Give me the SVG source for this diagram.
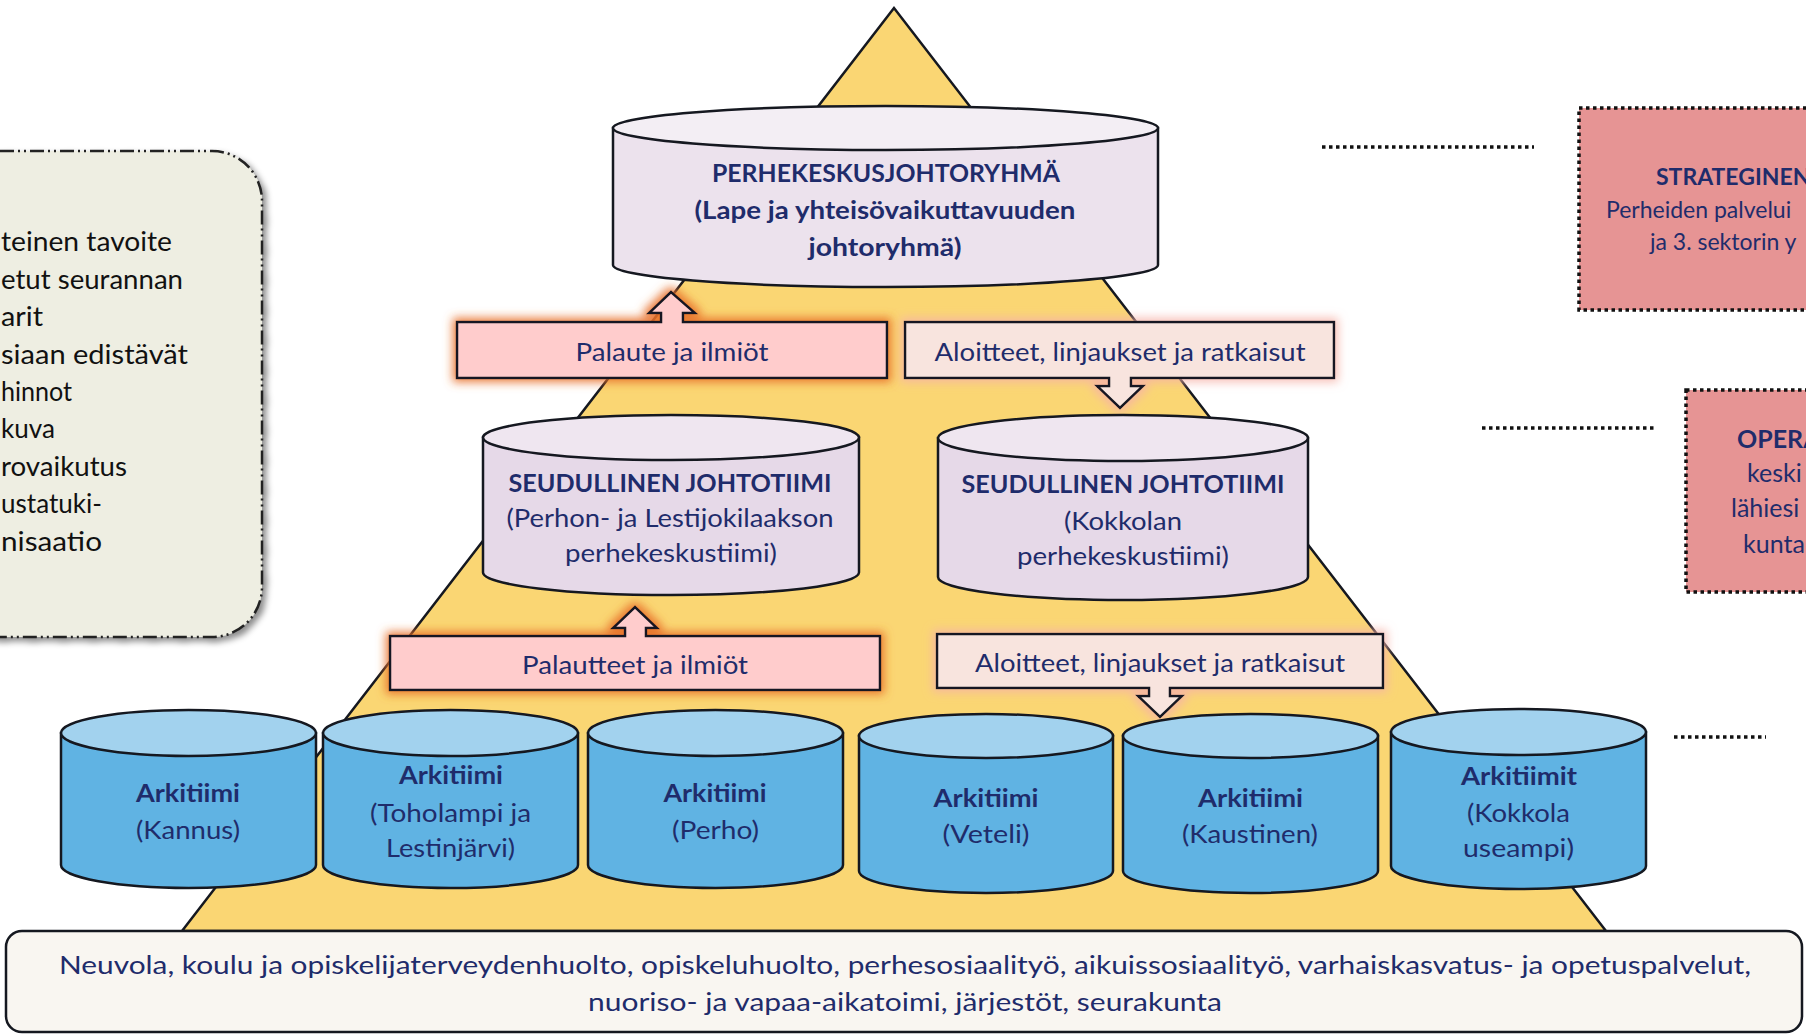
<svg xmlns="http://www.w3.org/2000/svg" width="1806" height="1034" viewBox="0 0 1806 1034">
<defs>
<style>
.t{font-family:Lato,"Open Sans","Liberation Sans",sans-serif;fill:#1F2C6B;font-size:25px}
.b{font-weight:bold}
.c{text-anchor:middle}
.blk{font-family:Lato,"Open Sans","Liberation Sans",sans-serif;fill:#111;font-size:26px}
.cyl{stroke:#151820;stroke-width:2.5}
.lav-s{fill:#E6D9E8}.lav-t{fill:#EFE6F0}
.top-s{fill:#ECE2ED}.top-t{fill:#F3EEF4}
.blu-s{fill:#60B3E3}.blu-t{fill:#A2D2EE}
.dotl{stroke:#111;stroke-width:3.5;stroke-dasharray:3.5 3.5;fill:none}
.callP{fill:#FFCCCC;stroke:#151820;stroke-width:2.5}
.callA{fill:#F8E4DE;stroke:#151820;stroke-width:2.5}
</style>
<filter id="glowO" x="-10%" y="-40%" width="120%" height="180%">
<feMorphology in="SourceAlpha" operator="dilate" radius="3" result="d"/>
<feGaussianBlur in="d" stdDeviation="5" result="bl"/>
<feFlood flood-color="#E8702A" flood-opacity="0.9"/>
<feComposite in2="bl" operator="in" result="g"/>
<feMerge><feMergeNode in="g"/><feMergeNode in="SourceGraphic"/></feMerge>
</filter>
<filter id="glowP" x="-10%" y="-40%" width="120%" height="180%">
<feMorphology in="SourceAlpha" operator="dilate" radius="3" result="d"/>
<feGaussianBlur in="d" stdDeviation="5" result="bl"/>
<feFlood flood-color="#F6B2A8" flood-opacity="0.8"/>
<feComposite in2="bl" operator="in" result="g"/>
<feMerge><feMergeNode in="g"/><feMergeNode in="SourceGraphic"/></feMerge>
</filter>
<filter id="shad" x="-10%" y="-10%" width="130%" height="130%">
<feGaussianBlur in="SourceAlpha" stdDeviation="3"/>
<feOffset dx="4" dy="4" result="o"/>
<feFlood flood-color="#000" flood-opacity="0.45"/>
<feComposite in2="o" operator="in" result="s"/>
<feMerge><feMergeNode in="s"/><feMergeNode in="SourceGraphic"/></feMerge>
</filter>
</defs>

<!-- pyramid -->
<g id="pyramid">
<polygon points="894,8 182,931 1606,931" fill="#FAD673" stroke="#151820" stroke-width="2.5" stroke-linejoin="miter"/>
</g>

<!-- left goals box -->
<g id="goals">
<rect x="-80" y="151" width="342" height="486" rx="50" ry="50" fill="#EEEEE2" stroke="#222" stroke-width="2.5" stroke-dasharray="14 4 2 4 2 4" filter="url(#shad)"/>
<text class="blk" x="1" y="251" textLength="171" lengthAdjust="spacingAndGlyphs">teinen tavoite</text>
<text class="blk" x="1" y="288.5" textLength="182" lengthAdjust="spacingAndGlyphs">etut seurannan</text>
<text class="blk" x="1" y="326" textLength="42" lengthAdjust="spacingAndGlyphs">arit</text>
<text class="blk" x="1" y="363.5" textLength="187" lengthAdjust="spacingAndGlyphs">siaan edistävät</text>
<text class="blk" x="1" y="401" textLength="71" lengthAdjust="spacingAndGlyphs">hinnot</text>
<text class="blk" x="1" y="438" textLength="54" lengthAdjust="spacingAndGlyphs">kuva</text>
<text class="blk" x="1" y="475.5" textLength="126" lengthAdjust="spacingAndGlyphs">rovaikutus</text>
<text class="blk" x="1" y="513" textLength="101" lengthAdjust="spacingAndGlyphs">ustatuki-</text>
<text class="blk" x="1" y="550.5" textLength="101" lengthAdjust="spacingAndGlyphs">nisaatio</text>
</g>

<!-- level boxes on the right -->
<g id="strateginen">
<rect x="1579" y="108" width="260" height="202" class="dotl" style="fill:#E69494"/>
<text class="t b" x="1656" y="185" style="font-size:23px">STRATEGINEN</text>
<text class="t" x="1606" y="218" style="font-size:23px">Perheiden palvelui</text>
<text class="t" x="1650" y="250" style="font-size:23px">ja 3. sektorin y</text>
</g>
<g id="operatiivinen">
<rect x="1686" y="390" width="160" height="202" class="dotl" style="fill:#E69494"/>
<text class="t b" x="1737" y="448" style="font-size:25px">OPERA</text>
<text class="t" x="1747" y="482" style="font-size:25px">keski</text>
<text class="t" x="1731" y="517" style="font-size:25px">lähiesi</text>
<text class="t" x="1743" y="553" style="font-size:25px">kunta</text>
</g>

<!-- connectors -->
<g id="connectors">
<line x1="1322" y1="147" x2="1534" y2="147" class="dotl"/>
<line x1="1482" y1="428" x2="1656" y2="428" class="dotl"/>
<line x1="1674" y1="737" x2="1766" y2="737" class="dotl"/>
<g id="up1" filter="url(#glowO)"><path class="callP" d="M457,322 H661 V313 H649 L671,292 L695,313 H683 V322 H887 V378 H457 Z"/></g>
<text class="t c" x="672" y="361" textLength="193" lengthAdjust="spacingAndGlyphs">Palaute ja ilmiöt</text>
<g id="down1" filter="url(#glowP)"><path class="callA" d="M905,322 H1334 V378 H1131 V386 H1143 L1120,408 L1097,386 H1109 V378 H905 Z"/></g>
<text class="t c" x="1120" y="361" textLength="371" lengthAdjust="spacingAndGlyphs">Aloitteet, linjaukset ja ratkaisut</text>
<g id="up2" filter="url(#glowO)"><path class="callP" d="M390,636 H625 V628 H613 L635,607 L657,628 H646 V636 H880 V690 H390 Z"/></g>
<text class="t c" x="635" y="674" textLength="226" lengthAdjust="spacingAndGlyphs">Palautteet ja ilmiöt</text>
<g id="down2" filter="url(#glowP)"><path class="callA" d="M937,634 H1383 V688 H1170 V696 H1182 L1160,717 L1138,696 H1149 V688 H937 Z"/></g>
<text class="t c" x="1160" y="672" textLength="370" lengthAdjust="spacingAndGlyphs">Aloitteet, linjaukset ja ratkaisut</text>
</g>

<!-- top cylinder -->
<g id="perhekeskusjohtoryhma">
<path class="cyl top-s" d="M613,128 V265 A272.5,22 0 0 0 1158,265 V128 Z"/>
<ellipse class="cyl top-t" cx="885.5" cy="128" rx="272.5" ry="22"/>
<text class="t b c" x="886" y="182" textLength="348" lengthAdjust="spacingAndGlyphs">PERHEKESKUSJOHTORYHMÄ</text>
<text class="t b c" x="885" y="219" textLength="381" lengthAdjust="spacingAndGlyphs">(Lape ja yhteisövaikuttavuuden</text>
<text class="t b c" x="885" y="256" textLength="153" lengthAdjust="spacingAndGlyphs">johtoryhmä)</text>
</g>

<!-- regional cylinders -->
<g id="seudullinen-perho">
<path class="cyl lav-s" d="M483,437.5 V572.5 A188,22.5 0 0 0 859,572.5 V437.5 Z"/>
<ellipse class="cyl lav-t" cx="671" cy="437.5" rx="188" ry="22.5"/>
<text class="t b c" x="670" y="492" textLength="323" lengthAdjust="spacingAndGlyphs">SEUDULLINEN JOHTOTIIMI</text>
<text class="t c" x="670" y="527" textLength="327" lengthAdjust="spacingAndGlyphs">(Perhon- ja Lestijokilaakson</text>
<text class="t c" x="671" y="562" textLength="212" lengthAdjust="spacingAndGlyphs">perhekeskustiimi)</text>
</g>
<g id="seudullinen-kokkola">
<path class="cyl lav-s" d="M938,438 V577 A185,23 0 0 0 1308,577 V438 Z"/>
<ellipse class="cyl lav-t" cx="1123" cy="438" rx="185" ry="23"/>
<text class="t b c" x="1123" y="493" textLength="323" lengthAdjust="spacingAndGlyphs">SEUDULLINEN JOHTOTIIMI</text>
<text class="t c" x="1123" y="530" textLength="118" lengthAdjust="spacingAndGlyphs">(Kokkolan</text>
<text class="t c" x="1123" y="565" textLength="212" lengthAdjust="spacingAndGlyphs">perhekeskustiimi)</text>
</g>

<!-- everyday team cylinders -->
<g id="arki-kannus">
<path class="cyl blu-s" d="M61,733 V865 A127.5,23 0 0 0 316,865 V733 Z"/>
<ellipse class="cyl blu-t" cx="188.5" cy="733" rx="127.5" ry="23"/>
<text class="t b c" x="188" y="802" textLength="104" lengthAdjust="spacingAndGlyphs">Arkitiimi</text>
<text class="t c" x="188" y="839" textLength="104" lengthAdjust="spacingAndGlyphs">(Kannus)</text>
</g>
<g id="arki-toholampi">
<path class="cyl blu-s" d="M323,733 V865 A127.5,23 0 0 0 578,865 V733 Z"/>
<ellipse class="cyl blu-t" cx="450.5" cy="733" rx="127.5" ry="23"/>
<text class="t b c" x="451" y="784" textLength="104" lengthAdjust="spacingAndGlyphs">Arkitiimi</text>
<text class="t c" x="450.5" y="822" textLength="161" lengthAdjust="spacingAndGlyphs">(Toholampi ja</text>
<text class="t c" x="450.5" y="857" textLength="129" lengthAdjust="spacingAndGlyphs">Lestinjärvi)</text>
</g>
<g id="arki-perho">
<path class="cyl blu-s" d="M588,733 V865 A127.5,23 0 0 0 843,865 V733 Z"/>
<ellipse class="cyl blu-t" cx="715.5" cy="733" rx="127.5" ry="23"/>
<text class="t b c" x="715" y="802" textLength="103" lengthAdjust="spacingAndGlyphs">Arkitiimi</text>
<text class="t c" x="715.5" y="839" textLength="87" lengthAdjust="spacingAndGlyphs">(Perho)</text>
</g>
<g id="arki-veteli">
<path class="cyl blu-s" d="M859,736 V871 A127,22 0 0 0 1113,871 V736 Z"/>
<ellipse class="cyl blu-t" cx="986" cy="736" rx="127" ry="22"/>
<text class="t b c" x="986" y="807" textLength="105" lengthAdjust="spacingAndGlyphs">Arkitiimi</text>
<text class="t c" x="986" y="843" textLength="87" lengthAdjust="spacingAndGlyphs">(Veteli)</text>
</g>
<g id="arki-kaustinen">
<path class="cyl blu-s" d="M1123,736 V871 A127.5,22 0 0 0 1378,871 V736 Z"/>
<ellipse class="cyl blu-t" cx="1250.5" cy="736" rx="127.5" ry="22"/>
<text class="t b c" x="1250.5" y="807" textLength="105" lengthAdjust="spacingAndGlyphs">Arkitiimi</text>
<text class="t c" x="1250" y="843" textLength="136" lengthAdjust="spacingAndGlyphs">(Kaustinen)</text>
</g>
<g id="arki-kokkola">
<path class="cyl blu-s" d="M1391,732 V866 A127.5,23 0 0 0 1646,866 V732 Z"/>
<ellipse class="cyl blu-t" cx="1518.5" cy="732" rx="127.5" ry="23"/>
<text class="t b c" x="1519" y="785" textLength="116" lengthAdjust="spacingAndGlyphs">Arkitiimit</text>
<text class="t c" x="1518.5" y="822" textLength="103" lengthAdjust="spacingAndGlyphs">(Kokkola</text>
<text class="t c" x="1518.5" y="857" textLength="111" lengthAdjust="spacingAndGlyphs">useampi)</text>
</g>

<!-- base services box -->
<g id="palvelut">
<rect x="6" y="931" width="1796" height="101" rx="16" ry="16" fill="#F9F6F1" stroke="#151820" stroke-width="2.5"/>
<text class="t c" x="905" y="974" textLength="1692" lengthAdjust="spacingAndGlyphs">Neuvola, koulu ja opiskelijaterveydenhuolto, opiskeluhuolto, perhesosiaalityö, aikuissosiaalityö, varhaiskasvatus- ja opetuspalvelut,</text>
<text class="t c" x="905" y="1011" textLength="634" lengthAdjust="spacingAndGlyphs">nuoriso- ja vapaa-aikatoimi, järjestöt, seurakunta</text>
</g>
</svg>
